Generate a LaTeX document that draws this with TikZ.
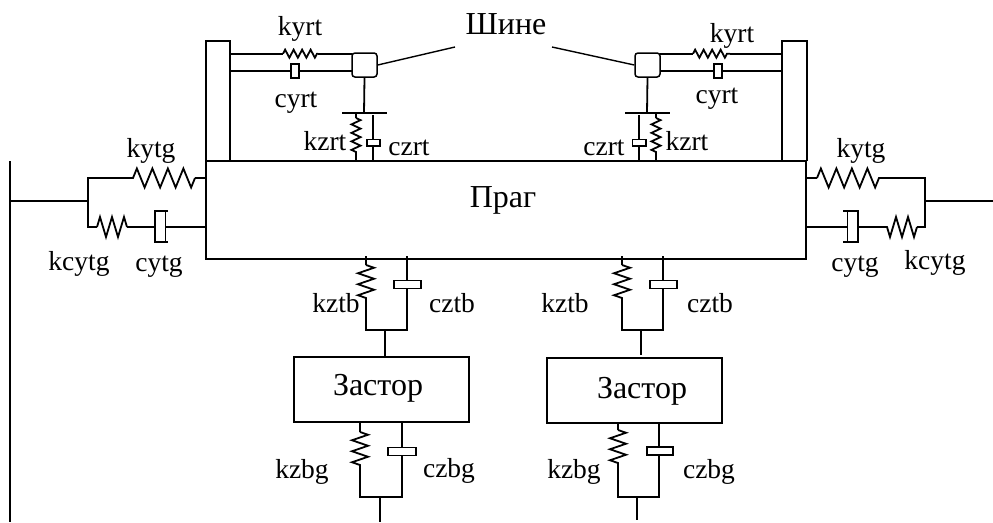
\documentclass[tikz,border=0pt]{standalone}
\usepackage{fontspec}
\setmainfont{Liberation Serif}
\usetikzlibrary{decorations.pathmorphing}
\tikzset{
  ln/.style={line width=1.8pt,line join=miter},
  box/.style={draw,line width=1.8pt,fill=white,inner sep=0pt,minimum width=#1},
  lab/.style={inner sep=0pt,anchor=base,font=\fontsize{27.5}{27.5}\selectfont},
  big/.style={inner sep=0pt,anchor=base,font=\fontsize{32}{32}\selectfont},
  sprA/.style={decorate,decoration={zigzag,segment length=15.5pt,amplitude=9.5pt,pre length=0pt,post length=0pt}},
  sprB/.style={decorate,decoration={zigzag,segment length=12pt,amplitude=10pt}},
  sprC/.style={decorate,decoration={zigzag,segment length=8.5pt,amplitude=4pt}},
  sprD/.style={decorate,decoration={zigzag,segment length=8.5pt,amplitude=4.5pt}},
  sprE/.style={decorate,decoration={zigzag,segment length=11pt,amplitude=8pt}},
  x=1pt,y=-1pt
}
\begin{document}
\begin{tikzpicture}
\useasboundingbox (0,0) rectangle (993,522);
% main frame
\node[box,minimum width=600pt,minimum height=98pt] (frame) at (506,210) {};
\node[big] (fl) at (503,207) {Праг};
% posts
\coordinate (pl1) at (206,161); \coordinate (pl2) at (206,41); \coordinate (pl3) at (230,41); \coordinate (pl4) at (230,161);
\draw[ln] (pl1) -- (pl2) -- (pl3) -- (pl4);
\coordinate (pr1) at (782,161); \coordinate (pr2) at (782,41); \coordinate (pr3) at (807,41); \coordinate (pr4) at (807,161);
\draw[ln] (pr1) -- (pr2) -- (pr3) -- (pr4);
% tyre boxes
\node[draw,line width=1.5pt,rounded corners=3pt,minimum width=25pt,minimum height=24pt,inner sep=0pt] (tl) at (364.5,65) {};
\node[draw,line width=1.5pt,rounded corners=3pt,minimum width=25pt,minimum height=24pt,inner sep=0pt] (tr) at (647.5,65) {};
% left rail
\coordinate (a1) at (230,53.7); \coordinate (a2) at (283,53.7); \coordinate (a3) at (318,53.7); \coordinate (a4) at (352,53.7);
\draw[ln] (a1) -- (a2); \draw[ln,sprC] (a2) -- (a3); \draw[ln] (a3) -- (a4);
\coordinate (b1) at (230,70.7); \coordinate (b2) at (291,70.7); \coordinate (b3) at (299,70.7); \coordinate (b4) at (352,70.7);
\draw[ln] (b1) -- (b2); \draw[ln] (b3) -- (b4);
\draw[ln,fill=white] (291,64) rectangle (299,78);
% right rail
\coordinate (c1) at (660,53.7); \coordinate (c2) at (693,53.7); \coordinate (c3) at (730,53.7); \coordinate (c4) at (782,53.7);
\draw[ln] (c1) -- (c2); \draw[ln,sprC] (c2) -- (c3); \draw[ln] (c3) -- (c4);
\coordinate (d1) at (660,70.7); \coordinate (d2) at (714,70.7); \coordinate (d3) at (722,70.7); \coordinate (d4) at (782,70.7);
\draw[ln] (d1) -- (d2); \draw[ln] (d3) -- (d4);
\draw[ln,fill=white] (714,64) rectangle (722,78);
% leaders
\coordinate (ll) at (455,47); \coordinate (lr) at (552,47);
\draw[line width=1.4pt] (tl.east) -- (ll);
\draw[line width=1.4pt] (tr.west) -- (lr);
\node[big] (sh) at (506,34) {Шине};
% left z suspension
\coordinate (e1) at (364,113); \coordinate (e2) at (342,113); \coordinate (e3) at (387,113);
\draw[ln] (tl.south) -- (e1); \draw[ln] (e2) -- (e3);
\draw[ln] (356,113) -- (356,118); \draw[ln,sprD] (356,118) -- (356,153); \draw[ln] (356,153) -- (356,161);
\draw[ln] (373,115) -- (373,161);
\draw[ln,fill=white] (367,139.5) rectangle (380,146);
% right z suspension
\coordinate (f1) at (647,113); \coordinate (f2) at (625,113); \coordinate (f3) at (670,113);
\draw[ln] (tr.south) -- (f1); \draw[ln] (f2) -- (f3);
\draw[ln] (656,113) -- (656,118); \draw[ln,sprD] (656,118) -- (656,153); \draw[ln] (656,153) -- (656,161);
\draw[ln] (639,115) -- (639,161);
\draw[ln,fill=white] (632.5,139.5) rectangle (646,146);
% left wall
\coordinate (w1) at (10,161); \coordinate (w2) at (10,522); \coordinate (w3) at (10,200.7); \coordinate (w4) at (88,200.7);
\draw[ln] (w1) -- (w2); \draw[ln] (w3) -- (w4);
\draw[ln] (206,178) -- (195,178); \draw[ln,sprA] (195,178) -- (130,178); \draw[ln] (130,178) -- (88,178) -- (88,227) -- (97,227);
\draw[ln,sprB] (97,227) -- (127,227); \draw[ln] (127,227) -- (155,227);
\draw[ln] (168,211) -- (155,211) -- (155,242) -- (168,242);
\draw[line width=1pt] (165,211) -- (165,242);
\draw[ln] (165,227) -- (206,227);
% right wall
\coordinate (w5) at (993,200.7); \coordinate (w6) at (925,200.7);
\draw[ln] (w5) -- (w6);
\draw[ln] (806,178) -- (817,178); \draw[ln,sprA] (817,178) -- (883,178); \draw[ln] (883,178) -- (925,178) -- (925,227) -- (917,227);
\draw[ln,sprB] (917,227) -- (885,227); \draw[ln] (885,227) -- (858,227);
\draw[ln] (843,211) -- (858,211) -- (858,242) -- (843,242);
\draw[line width=1pt] (847,211) -- (847,242);
\draw[ln] (806,227) -- (847,227);
% stoppers
\node[box,minimum width=175pt,minimum height=65pt] (zl) at (381.5,389.5) {};
\node[box,minimum width=175pt,minimum height=65pt] (zr) at (634.5,390.5) {};
\node[big] (zlt) at (378,395) {Застор};
\node[big] (zrt) at (642,398) {Застор};
% upper left bogie
\draw[ln] (366,256) -- (366,265); \draw[ln,sprE] (366,265) -- (366,303); \draw[ln] (366,303) -- (366,330) -- (407,330) -- (407,256);
\draw[ln,fill=white] (394,280.5) rectangle (421,288.5);
\draw[ln] (385,330) -- (385,357);
% upper right bogie
\draw[ln] (622,256) -- (622,265); \draw[ln,sprE] (622,265) -- (622,303); \draw[ln] (622,303) -- (622,330) -- (663,330) -- (663,256);
\draw[ln,fill=white] (650,280.5) rectangle (677,288.5);
\draw[ln] (641,330) -- (641,355);
% lower left
\draw[ln] (360,422) -- (360,432); \draw[ln,sprE] (360,432) -- (360,470); \draw[ln] (360,470) -- (360,497) -- (402,497) -- (402,422);
\draw[ln,fill=white] (388,447.5) rectangle (416,455.5);
\coordinate (g1) at (380,497); \coordinate (g2) at (380,522);
\draw[ln] (g1) -- (g2);
% lower right
\draw[ln] (618,423) -- (618,430); \draw[ln,sprE] (618,430) -- (618,468); \draw[ln] (618,468) -- (618,497) -- (659,497) -- (659,423);
\draw[ln,fill=white] (647,447) rectangle (673,455);
\coordinate (h1) at (637,497); \coordinate (h2) at (637,520);
\draw[ln] (h1) -- (h2);
% labels
\node[lab] (n1) at (300,35) {kyrt};
\node[lab] (n2) at (296,107) {cyrt};
\node[lab] (n3) at (325,150) {kzrt};
\node[lab] (n4) at (409,155) {czrt};
\node[lab] (n5) at (732,42) {kyrt};
\node[lab] (n6) at (717,103) {cyrt};
\node[lab] (n7) at (687,150) {kzrt};
\node[lab] (n8) at (604,155) {czrt};
\node[lab] (n9) at (151,157) {kytg};
\node[lab] (n10) at (79,270) {kcytg};
\node[lab] (n11) at (159,271) {cytg};
\node[lab] (n12) at (861,157) {kytg};
\node[lab] (n13) at (855,271) {cytg};
\node[lab] (n14) at (935,269) {kcytg};
\node[lab] (n15) at (336,312) {kztb};
\node[lab] (n16) at (452,312) {cztb};
\node[lab] (n17) at (565,312) {kztb};
\node[lab] (n18) at (710,312) {cztb};
\node[lab] (n19) at (302,478) {kzbg};
\node[lab] (n20) at (449,477) {czbg};
\node[lab] (n21) at (574,478) {kzbg};
\node[lab] (n22) at (709,478) {czbg};
\end{tikzpicture}
\end{document}
